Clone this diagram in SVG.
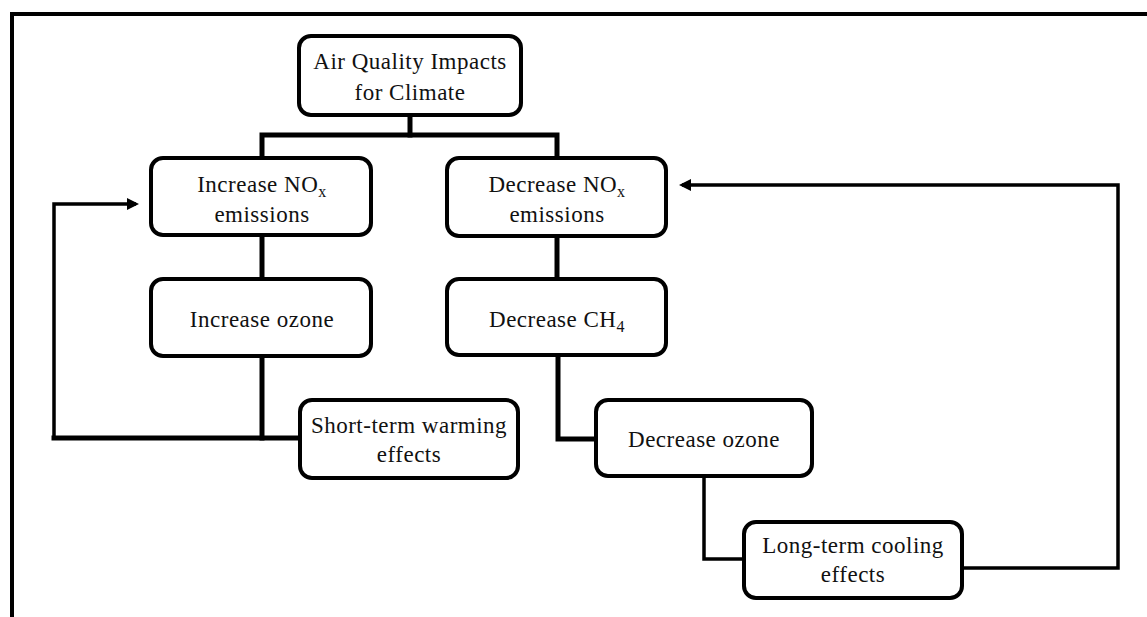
<svg xmlns="http://www.w3.org/2000/svg" width="1147" height="617" viewBox="0 0 1147 617">
<style>
.box{fill:#fff;stroke:#000;stroke-width:4}
.t{font-family:"Liberation Serif","DejaVu Serif","Times New Roman",serif;font-size:23px;fill:#111;text-anchor:middle;letter-spacing:0.5px}
.sub{font-size:16px}
.c{fill:none;stroke:#000;stroke-linejoin:miter;stroke-linecap:square}
.thick{stroke-width:5}
.thin{stroke-width:3.5}
.arr{stroke-linecap:butt}
.frame{fill:none;stroke:#000;stroke-width:4}
</style>
<defs>
<marker id="ah" markerUnits="userSpaceOnUse" markerWidth="14" markerHeight="14" refX="9" refY="7" orient="auto" overflow="visible">
<path d="M0,1 L12,7 L0,13 z" fill="#000"/>
</marker>
</defs>
<rect width="1147" height="617" fill="#fff"/>
<path class="frame" d="M12,617 L12,14 L1147,14"/>
<g id="connectors">
<path class="c thick" d="M410,117 L410,135"/>
<path class="c thick" d="M262,156 L262,135 L557,135 L557,156"/>
<path class="c thick" d="M262,237 L262,277"/>
<path class="c thick" d="M557,238 L557,277"/>
<path class="c thick" d="M262,358 L262,438"/>
<path class="c thick" d="M298,438 L54,438"/>
<path class="c thin arr" d="M54,440 L54,204 L136,204" marker-end="url(#ah)"/>
<path class="c thick" d="M558,357 L558,439 L594,439"/>
<path class="c thin" d="M704,478 L704,559 L742,559"/>
<path class="c thin arr" d="M964,568 L1118,568 L1118,185 L682,185" marker-end="url(#ah)"/>
</g>
<g id="n-top">
<rect class="box" x="299" y="36" width="222" height="79" rx="12"/>
<text class="t" x="410" y="69">Air Quality Impacts</text>
<text class="t" x="410" y="100">for Climate</text>
</g>
<g id="n-inc-nox">
<rect class="box" x="151" y="158" width="220" height="77" rx="12"/>
<text class="t" x="262" y="192">Increase NO<tspan class="sub" dy="5">x</tspan></text>
<text class="t" x="262" y="222">emissions</text>
</g>
<g id="n-inc-ozone">
<rect class="box" x="151" y="279" width="220" height="77" rx="12"/>
<text class="t" x="262" y="327">Increase ozone</text>
</g>
<g id="n-short">
<rect class="box" x="300" y="400" width="218" height="78" rx="12"/>
<text class="t" x="409" y="433">Short-term warming</text>
<text class="t" x="409" y="462">effects</text>
</g>
<g id="n-dec-nox">
<rect class="box" x="447" y="158" width="219" height="78" rx="12"/>
<text class="t" x="557" y="192">Decrease NO<tspan class="sub" dy="5">x</tspan></text>
<text class="t" x="557" y="222">emissions</text>
</g>
<g id="n-dec-ch4">
<rect class="box" x="447" y="279" width="219" height="76" rx="12"/>
<text class="t" x="557" y="327">Decrease CH<tspan class="sub" dy="5">4</tspan></text>
</g>
<g id="n-dec-ozone">
<rect class="box" x="596" y="400" width="216" height="76" rx="12"/>
<text class="t" x="704" y="447">Decrease ozone</text>
</g>
<g id="n-long">
<rect class="box" x="744" y="522" width="218" height="76" rx="12"/>
<text class="t" x="853" y="553">Long-term cooling</text>
<text class="t" x="853" y="582">effects</text>
</g>
</svg>
